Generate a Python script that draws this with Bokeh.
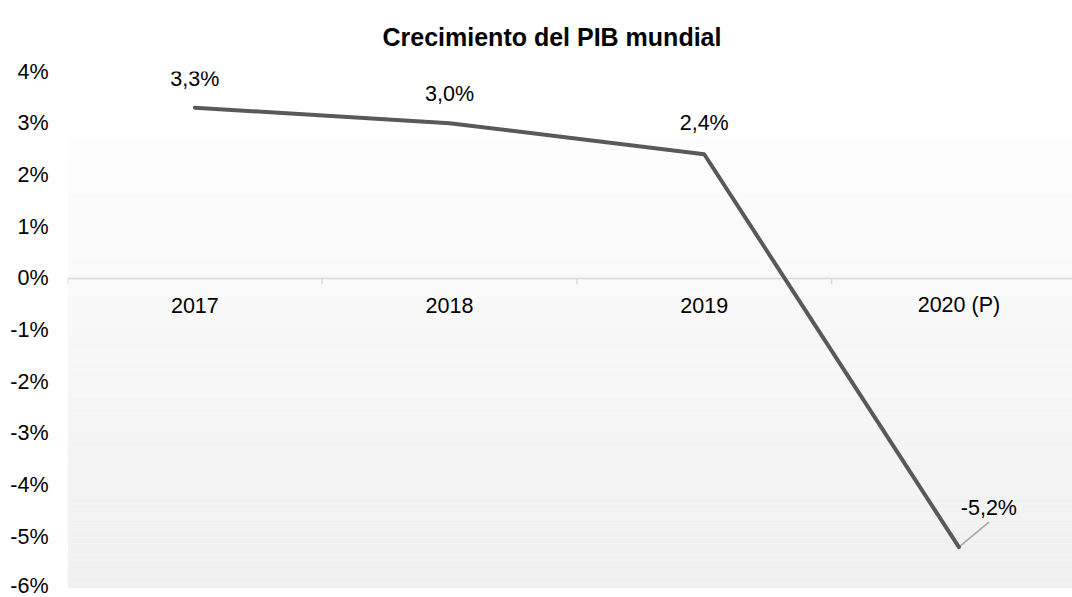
import numpy as np
from bokeh.plotting import figure
from bokeh.models import Range1d, FixedTicker, PrintfTickFormatter, Title, ColumnDataSource
from bokeh.core.properties import value
from bokeh.embed import file_html
from bokeh.resources import INLINE

# ---- data ----
categories = ["2017", "2018", "2019", "2020 (P)"]
growth = [3.3, 3.0, 2.4, -5.2]
y_ticks = [-6, -5, -4, -3, -2, -1, 0, 1, 2, 3, 4]

# ---- styling constants ----
FONT = "Liberation Sans"
LINE_COLOR = "#595959"
X_END = 3.946          # visible categories (last one cut at the right edge)
GRAD_TOP = 2.73        # where the plot-area gradient begins

x = [i + 0.5 for i in range(len(categories))]
labels = [f"{v:.1f}".replace(".", ",") + "%" for v in growth]

p = figure(width=1072, height=597, output_backend="svg", toolbar_location=None,
           x_range=Range1d(0, X_END), y_range=Range1d(-6, 4),
           min_border_left=67, min_border_right=0, min_border_top=71, min_border_bottom=9)
p.outline_line_color = None
p.xgrid.visible = False
p.ygrid.visible = False
p.xaxis.visible = False

# title
t = Title(text="Crecimiento del PIB mundial", align="left", offset=315,
          text_font=FONT, text_font_size="25px", text_font_style="bold",
          text_color="#000000", standoff=41)
p.title = t

# y axis
p.yaxis.ticker = FixedTicker(ticks=y_ticks)
p.yaxis.formatter = PrintfTickFormatter(format="%d%%")
p.yaxis.axis_line_color = None
p.yaxis.major_tick_line_color = None
p.yaxis.minor_tick_line_color = None
p.yaxis.major_tick_out = 0
p.yaxis.major_label_standoff = 19
p.yaxis.major_label_text_font = FONT
p.yaxis.major_label_text_font_size = "21.5px"
p.yaxis.major_label_text_color = "#000000"

# plot-area gradient (white to light grey)
n = 80
edges = np.linspace(GRAD_TOP, -6, n + 1)
c0 = np.array([0xfd, 0xfd, 0xfd])
c1 = np.array([0xf0, 0xf0, 0xf0])
cols = []
for i in range(n):
    f = i / (n - 1)
    c = (c0 * (1 - f) + c1 * f).round().astype(int)
    cols.append("#%02x%02x%02x" % tuple(c))
p.quad(left=0, right=X_END, top=edges[:-1], bottom=edges[1:], fill_color=cols, line_color=None)

# zero baseline + category ticks
p.hspan(y=[0], line_color="#d9d9d9", line_width=1.5)
bounds = list(range(len(categories) + 1))
p.ray(x=bounds, y=[0] * len(bounds), length=6, length_units="screen", angle=-np.pi / 2,
      line_color="#d9d9d9", line_width=1.5)
p.text(x=x, y=[0] * len(x), text=categories, y_offset=27, text_align="center",
       text_baseline="middle", text_font=value(FONT), text_font_size="21.5px", text_color="#000000")

# data line
src = ColumnDataSource(dict(x=x, y=growth, lab=labels,
                            dx=[0, 0, 0, 30], dy=[-29, -29, -31, -39]))
# leader line for last label
px_per_x = 254.7
px_per_y = 51.7
p.segment(x0=[x[-1]], y0=[growth[-1]], x1=[x[-1] + 30 / px_per_x], y1=[growth[-1] + 25 / px_per_y],
          line_color="#a6a6a6", line_width=1.5)
p.line("x", "y", source=src, line_color=LINE_COLOR, line_width=4, line_join="round", line_cap="round")
p.text("x", "y", text="lab", source=src, x_offset="dx", y_offset="dy", text_align="center",
       text_baseline="middle", text_font=value(FONT), text_font_size="21.5px", text_color="#000000")

open("out.html", "w").write(file_html(p, INLINE))
